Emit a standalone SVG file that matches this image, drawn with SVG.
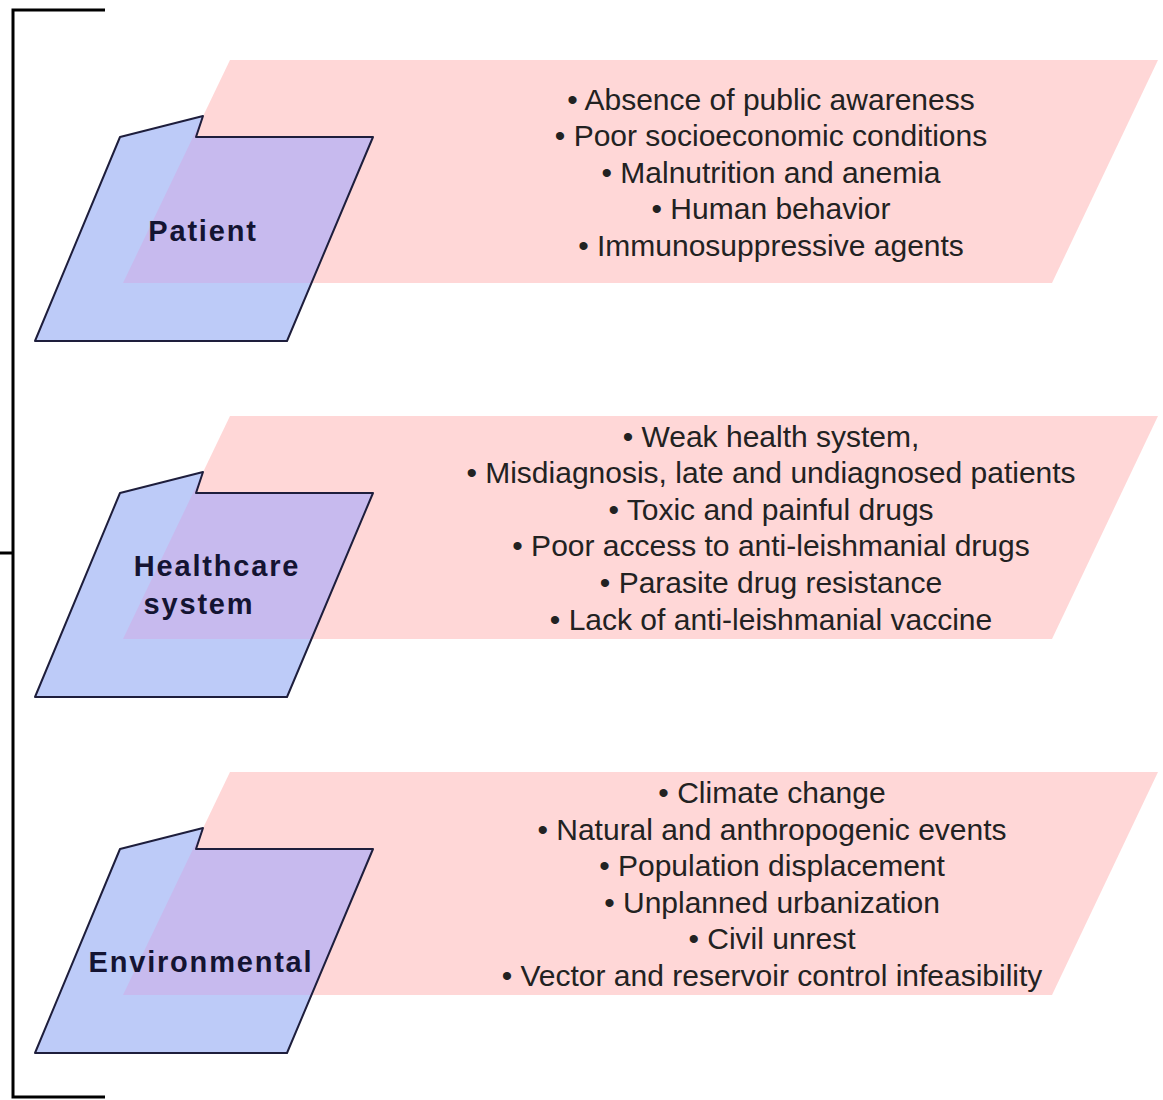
<svg xmlns="http://www.w3.org/2000/svg" width="1163" height="1100" viewBox="0 0 1163 1100">
  <style>
    .pink { fill: #FFD7D7; stroke: none; }
    .folder { fill: #BDCBF8; stroke: none; }
    .overlap { fill: #C7BAEE; stroke: none; }
    .outline { fill: none; stroke: #1E1E3C; stroke-width: 2; stroke-linejoin: round; }
    .label { font-family: "Liberation Sans", Arial, sans-serif; font-weight: bold; font-size: 29px; letter-spacing: 1.8px; fill: #141432; text-anchor: middle; }
    .item { font-family: "Liberation Sans", Arial, sans-serif; font-size: 30px; fill: #222222; text-anchor: middle; }
    .bracket { fill: none; stroke: #000000; stroke-width: 3; }
  </style>
  <defs>
    <path id="folderShape" d="M120,137 L203,116 L196,137 L373,137 L287,341 L35,341 Z"/>
    <polygon id="pinkShape" points="230,60 1158,60 1052,283 123,283"/>
    <clipPath id="folderClip"><use href="#folderShape"/></clipPath>
  </defs>
  <rect x="0" y="0" width="1163" height="1100" fill="#FFFFFF"/>

  <g id="connectors">
    <path class="bracket" d="M105,10 H13 V1097 H105"/>
    <line class="bracket" x1="0" y1="553" x2="13" y2="553"/>
  </g>

  <g id="node-patient">
    <use href="#pinkShape" class="pink"/>
    <use href="#folderShape" class="folder"/>
    <g clip-path="url(#folderClip)"><use href="#pinkShape" class="overlap"/></g>
    <use href="#folderShape" class="outline"/>
    <text class="label" x="203" y="241">Patient</text>
    <g class="item">
      <text x="771" y="110">• Absence of public awareness</text>
      <text x="771" y="146">• Poor socioeconomic conditions</text>
      <text x="771" y="183">• Malnutrition and anemia</text>
      <text x="771" y="219">• Human behavior</text>
      <text x="771" y="256">• Immunosuppressive agents</text>
    </g>
  </g>

  <g id="node-healthcare" transform="translate(0,356)">
    <use href="#pinkShape" class="pink"/>
    <use href="#folderShape" class="folder"/>
    <g clip-path="url(#folderClip)"><use href="#pinkShape" class="overlap"/></g>
    <use href="#folderShape" class="outline"/>
    <text class="label" x="217" y="220">Healthcare</text>
    <text class="label" x="199" y="258">system</text>
    <g class="item">
      <text x="771" y="91">• Weak health system,</text>
      <text x="771" y="127">• Misdiagnosis, late and undiagnosed patients</text>
      <text x="771" y="164">• Toxic and painful drugs</text>
      <text x="771" y="200">• Poor access to anti-leishmanial drugs</text>
      <text x="771" y="237">• Parasite drug resistance</text>
      <text x="771" y="274">• Lack of anti-leishmanial vaccine</text>
    </g>
  </g>

  <g id="node-environmental" transform="translate(0,712)">
    <use href="#pinkShape" class="pink"/>
    <use href="#folderShape" class="folder"/>
    <g clip-path="url(#folderClip)"><use href="#pinkShape" class="overlap"/></g>
    <use href="#folderShape" class="outline"/>
    <text class="label" x="201" y="260">Environmental</text>
    <g class="item">
      <text x="772" y="91">• Climate change</text>
      <text x="772" y="128">• Natural and anthropogenic events</text>
      <text x="772" y="164">• Population displacement</text>
      <text x="772" y="201">• Unplanned urbanization</text>
      <text x="772" y="237">• Civil unrest</text>
      <text x="772" y="274">• Vector and reservoir control infeasibility</text>
    </g>
  </g>
</svg>
